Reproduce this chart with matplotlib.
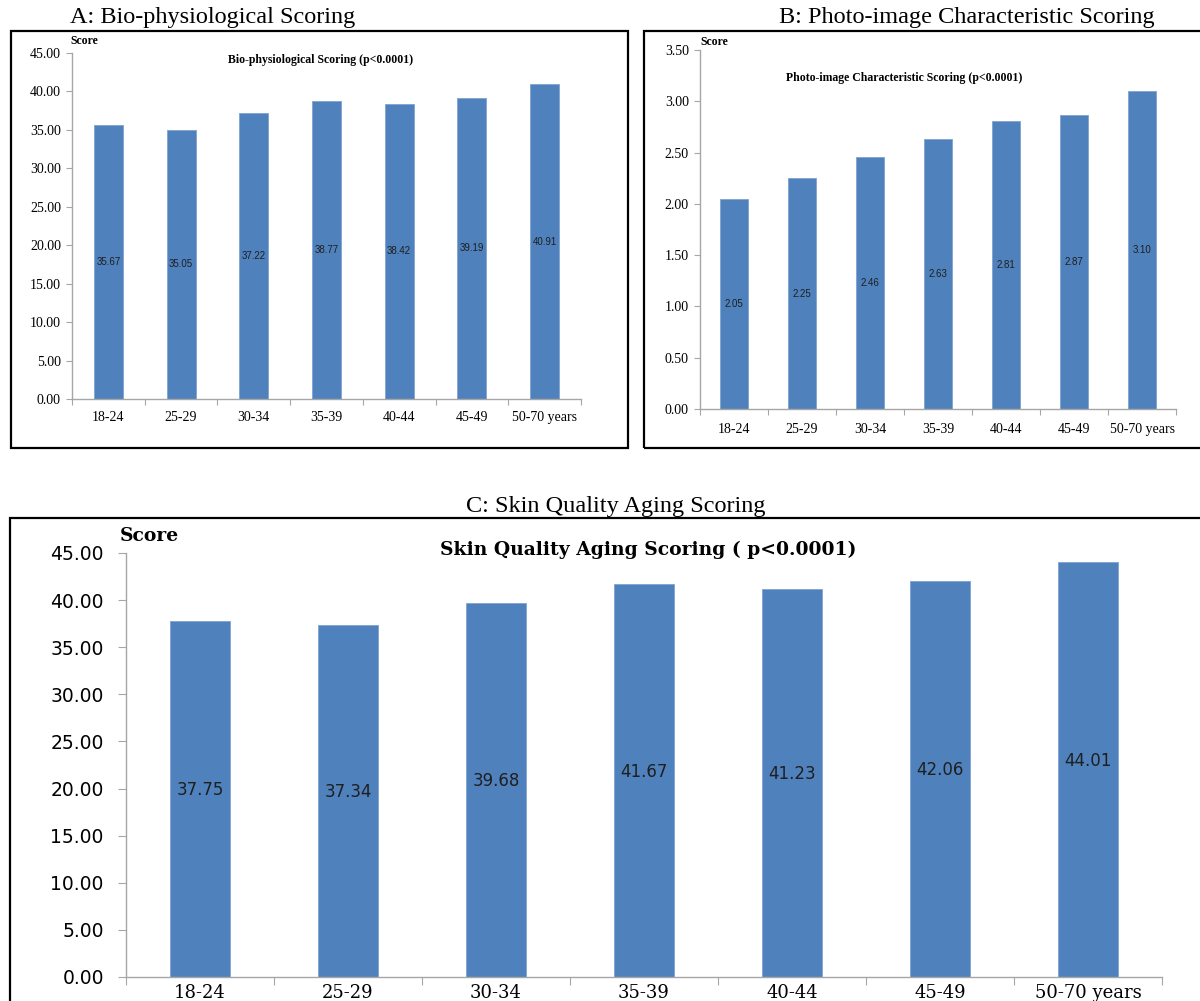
import matplotlib.pyplot as plt
from matplotlib.patches import Rectangle

# data
age_groups = ["18-24", "25-29", "30-34", "35-39", "40-44", "45-49", "50-70 years"]
bio_scores = [35.67, 35.05, 37.22, 38.77, 38.42, 39.19, 40.91]
photo_scores = [2.05, 2.25, 2.46, 2.63, 2.81, 2.87, 3.10]
skin_scores = [37.75, 37.34, 39.68, 41.67, 41.23, 42.06, 44.01]

bio_ticks = [0, 5, 10, 15, 20, 25, 30, 35, 40, 45]
photo_ticks = [0, 0.5, 1.0, 1.5, 2.0, 2.5, 3.0, 3.5]

BAR = "#4F81BD"
AXIS = "#A6A6A6"
SERIF = "Liberation Serif"


def bar_panel(ax, values, yticks, tick_font, tick_size, xpad, ypad, ylen,
              lab_font, lab_size, lab_va, width=0.4):
    x = range(len(values))
    ax.bar(x, values, width=width, color=BAR, edgecolor="#7FA3D1", linewidth=0.6, zorder=2)
    for i, v in enumerate(values):
        ax.text(i, v / 2, f"{v:.2f}", ha="center", va=lab_va,
                fontsize=lab_size, family=lab_font, color="#1F1F1F", zorder=3)
    ax.set_xlim(-0.5, len(values) - 0.5)
    ax.set_ylim(yticks[0], yticks[-1])
    ax.set_yticks(yticks)
    ax.set_yticklabels([f"{t:.2f}" for t in yticks], family=tick_font, fontsize=tick_size)
    # category ticks between bars, labels centred under bars
    ax.set_xticks([i - 0.5 for i in range(len(values) + 1)])
    ax.set_xticklabels([])
    ax.set_xticks(list(x), minor=True)
    ax.set_xticklabels(age_groups, minor=True, family=tick_font, fontsize=tick_size)
    ax.tick_params(axis="x", which="major", length=ylen, color=AXIS, direction="out")
    ax.tick_params(axis="x", which="minor", length=0, pad=xpad)
    ax.tick_params(axis="y", length=ylen, color=AXIS, pad=ypad)
    for s in ["top", "right"]:
        ax.spines[s].set_visible(False)
    for s in ["left", "bottom"]:
        ax.spines[s].set_color(AXIS)
        ax.spines[s].set_linewidth(1.0)


fig = plt.figure(figsize=(12, 10.01), dpi=100)

# panel frames
fig.patches.append(Rectangle((11 / 1200, 1 - 448 / 1001), 617 / 1200, 417 / 1001,
                             transform=fig.transFigure, fill=False, ec="black", lw=1.6))
fig.patches.append(Rectangle((644 / 1200, 1 - 448 / 1001), 560 / 1200, 417 / 1001,
                             transform=fig.transFigure, fill=False, ec="black", lw=1.6))
fig.patches.append(Rectangle((10 / 1200, -0.01), 1.0, 1 - 518 / 1001 + 0.01,
                             transform=fig.transFigure, fill=False, ec="black", lw=1.6))

fig.text(0.1775, 0.983, "A: Bio-physiological Scoring", ha="center", va="center",
         family=SERIF, fontsize=17.5)
fig.text(0.806, 0.983, "B: Photo-image Characteristic Scoring", ha="center", va="center",
         family=SERIF, fontsize=17.5)
fig.text(0.513, 0.4945, "C: Skin Quality Aging Scoring", ha="center", va="center",
         family=SERIF, fontsize=17.5)

# A
axA = fig.add_axes([72 / 1200, 1 - 399 / 1001, 509 / 1200, 346 / 1001])
bar_panel(axA, bio_scores, bio_ticks, SERIF, 10, 9, 4, 4, "Liberation Sans", 7, "center")
axA.text(0.489, 0.98, "Bio-physiological Scoring (p<0.0001)", transform=axA.transAxes,
         ha="center", va="center", family=SERIF, fontsize=8.5, fontweight="bold")
axA.text(-0.004, 1.035, "Score", transform=axA.transAxes, ha="left", va="center",
         family=SERIF, fontsize=8.5, fontweight="bold")

# B
axB = fig.add_axes([700 / 1200, 1 - 409 / 1001, 476 / 1200, 359 / 1001])
bar_panel(axB, photo_scores, photo_ticks, SERIF, 10, 10, 4, 4, "Liberation Sans", 7, "center")
axB.text(0.43, 0.922, "Photo-image Characteristic Scoring (p<0.0001)", transform=axB.transAxes,
         ha="center", va="center", family=SERIF, fontsize=8.5, fontweight="bold")
axB.text(0.0, 1.022, "Score", transform=axB.transAxes, ha="left", va="center",
         family=SERIF, fontsize=8.5, fontweight="bold")

# C
axC = fig.add_axes([126 / 1200, 1 - 977 / 1001, 1036 / 1200, 424 / 1001])
bar_panel(axC, skin_scores, bio_ticks, "DejaVu Sans", 13.5, 5, 10, 6, "DejaVu Sans", 12, "bottom",
          width=0.405)
for lab in axC.get_xticklabels(minor=True):
    lab.set_family("DejaVu Serif")
    lab.set_fontsize(13)
axC.text(0.504, 1.007, "Skin Quality Aging Scoring ( p<0.0001)", transform=axC.transAxes,
         ha="center", va="center", family="DejaVu Serif", fontsize=13.5, fontweight="bold")
axC.text(-0.006, 1.04, "Score", transform=axC.transAxes, ha="left", va="center",
         family="DejaVu Serif", fontsize=13.5, fontweight="bold")

fig.savefig("out.png", dpi=100)
